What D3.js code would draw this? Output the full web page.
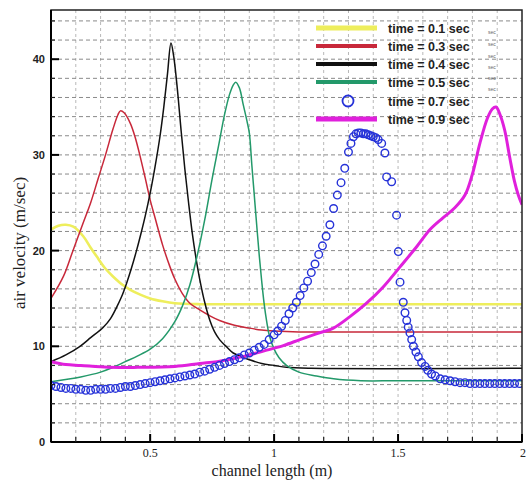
<!DOCTYPE html>
<html><head><meta charset="utf-8">
<script src="https://cdn.jsdelivr.net/npm/d3@7"></script>
<style>body{margin:0;background:#fff}svg{display:block}</style>
</head><body>
<svg id="c" width="530" height="483"></svg>
<script>
// ---- data ----
const xTicks = [0.5, 1, 1.5, 2];
const xTickLabels = ["0.5", "1", "1.5", "2"];
const yTicks = [0, 10, 20, 30, 40];
const yTickLabels = ["0", "10", "20", "30", "40"];
const seriesNames = ["time = 0.1 sec","time = 0.3 sec","time = 0.4 sec","time = 0.5 sec","time = 0.7 sec","time = 0.9 sec"];

const t01 = [[0.1,22.2],[0.13,22.6],[0.16,22.7],[0.19,22.5],[0.23,21.5],[0.26,20.3],[0.284,19.4],[0.32,18.1],[0.35,17.3],[0.39,16.4],[0.42,15.9],[0.46,15.4],[0.5,15.0],[0.55,14.7],[0.6,14.5],[0.7,14.4],[0.8,14.4],[2.0,14.4]];
const t03 = [[0.1,15.0],[0.15,17.3],[0.19,20.1],[0.23,22.9],[0.26,25.0],[0.29,27.5],[0.32,30.0],[0.35,32.7],[0.37,34.2],[0.38,34.6],[0.395,34.4],[0.42,33.3],[0.44,31.8],[0.46,29.8],[0.48,27.6],[0.5,25.3],[0.52,23.4],[0.55,20.6],[0.58,18.3],[0.6,17.0],[0.63,15.5],[0.66,14.5],[0.7,13.8],[0.74,13.2],[0.78,12.7],[0.84,12.2],[0.9,11.9],[0.95,11.7],[1.0,11.6],[1.1,11.5],[1.3,11.5],[2.0,11.5]];
const t04 = [[0.1,8.4],[0.16,9.1],[0.217,10.0],[0.26,10.9],[0.311,12.0],[0.34,12.9],[0.365,14.1],[0.385,15.2],[0.405,16.6],[0.425,18.2],[0.446,20.1],[0.465,22.0],[0.48,23.6],[0.5,26.0],[0.52,28.8],[0.54,32.0],[0.555,35.0],[0.57,38.5],[0.584,41.7],[0.595,40.3],[0.61,36.8],[0.625,32.5],[0.64,28.5],[0.655,25.0],[0.67,21.8],[0.685,19.2],[0.70,17.0],[0.72,14.6],[0.741,12.7],[0.76,11.5],[0.78,10.7],[0.81,9.9],[0.835,9.3],[0.87,8.9],[0.9,8.6],[0.95,8.2],[1.0,8.0],[1.05,7.8],[1.15,7.7],[2.0,7.7]];
const t05 = [[0.1,6.3],[0.22,6.8],[0.3,7.3],[0.35,7.8],[0.4,8.4],[0.45,9.0],[0.5,9.7],[0.55,10.8],[0.6,12.6],[0.63,14.2],[0.66,16.4],[0.69,19.5],[0.72,23.2],[0.75,27.5],[0.78,31.5],[0.80,34.2],[0.82,36.3],[0.835,37.3],[0.845,37.6],[0.86,37.0],[0.875,35.3],[0.89,33.6],[0.9,32.3],[0.91,29.0],[0.92,25.8],[0.93,22.6],[0.94,19.5],[0.95,16.8],[0.96,14.4],[0.97,12.6],[0.98,11.2],[1.0,9.7],[1.02,8.8],[1.05,8.0],[1.1,7.3],[1.17,6.9],[1.24,6.6],[1.35,6.4],[1.5,6.4],[2.0,6.4]];
const t07 = [[0.10,5.9],[0.12,5.8],[0.14,5.7],[0.16,5.6],[0.18,5.6],[0.20,5.5],[0.22,5.5],[0.24,5.4],[0.26,5.4],[0.28,5.5],[0.30,5.5],[0.32,5.5],[0.34,5.6],[0.36,5.6],[0.38,5.7],[0.40,5.8],[0.42,5.8],[0.44,5.9],[0.46,6.0],[0.48,6.1],[0.50,6.2],[0.52,6.3],[0.54,6.4],[0.56,6.5],[0.58,6.6],[0.60,6.7],[0.62,6.8],[0.64,6.9],[0.66,7.0],[0.68,7.1],[0.70,7.3],[0.72,7.4],[0.74,7.6],[0.76,7.8],[0.78,8.0],[0.80,8.2],[0.82,8.4],[0.84,8.6],[0.86,8.8],[0.88,9.1],[0.90,9.3],[0.92,9.6],[0.94,9.9],[0.96,10.2],[0.98,10.7],[1.00,11.2],[1.015,11.6],[1.03,12.1],[1.045,12.7],[1.06,13.4],[1.075,14.0],[1.09,14.6],[1.105,15.3],[1.12,16.1],[1.135,16.8],[1.15,17.7],[1.165,18.6],[1.18,19.6],[1.195,20.5],[1.21,21.5],[1.225,22.7],[1.24,24.4],[1.255,25.8],[1.27,27.1],[1.285,28.6],[1.30,30.3],[1.31,31.2],[1.32,31.9],[1.33,32.2],[1.34,32.3],[1.35,32.3],[1.36,32.2],[1.37,32.2],[1.38,32.1],[1.39,32.0],[1.40,31.9],[1.41,31.8],[1.42,31.6],[1.434,31.2],[1.447,30.2],[1.454,27.7],[1.474,27.2],[1.494,23.7],[1.501,19.9],[1.508,16.7],[1.521,14.6],[1.528,13.5],[1.535,12.7],[1.541,12.0],[1.548,11.4],[1.555,10.7],[1.562,10.0],[1.572,9.4],[1.582,8.9],[1.595,8.3],[1.609,7.9],[1.62,7.5],[1.635,7.1],[1.65,6.9],[1.67,6.6],[1.69,6.5],[1.71,6.4],[1.73,6.3],[1.75,6.2],[1.77,6.2],[1.79,6.1],[1.81,6.1],[1.83,6.1],[1.85,6.1],[1.87,6.1],[1.89,6.1],[1.91,6.1],[1.93,6.1],[1.95,6.1],[1.97,6.1],[1.99,6.1]];
const t09 = [[0.1,8.4],[0.16,8.1],[0.22,8.0],[0.33,7.8],[0.45,7.8],[0.6,7.9],[0.7,8.2],[0.77,8.4],[0.835,8.7],[0.9,9.1],[0.97,9.6],[1.04,10.1],[1.104,10.7],[1.17,11.3],[1.239,11.9],[1.306,13.1],[1.373,14.5],[1.44,16.2],[1.508,18.3],[1.575,20.4],[1.629,22.2],[1.68,23.4],[1.73,24.5],[1.77,25.8],[1.8,28.0],[1.83,31.2],[1.86,33.8],[1.88,34.8],[1.895,35.0],[1.91,34.3],[1.93,32.6],[1.95,29.8],[1.97,27.2],[1.985,25.8],[2.0,24.8]];

// ---- layout ----
const svg = d3.select("#c");
const L = 51, R = 522, T = 10, B = 442;
const x = d3.scaleLinear().domain([0.1, 2]).range([L, R]);
const y = d3.scaleLinear().domain([0, 45]).range([B, B - 45 * 9.57]);

const g = svg.append("g");

// grid
const xGrid = d3.range(2, 20).map(d => d / 10);
const yGrid = d3.range(2, 45, 2);
g.selectAll(".vg").data(xGrid).join("line")
  .attr("x1", d => x(d)).attr("x2", d => x(d)).attr("y1", T).attr("y2", B)
  .attr("stroke", "#b8b8b8").attr("stroke-width", 1).attr("stroke-dasharray", "3,3");
g.selectAll(".hg").data(yGrid).join("line")
  .attr("x1", L).attr("x2", R).attr("y1", d => y(d)).attr("y2", d => y(d))
  .attr("stroke", "#8a8a8a").attr("stroke-width", 1).attr("stroke-dasharray", "4,3");

// curves
const line = d3.line().x(d => x(d[0])).y(d => y(d[1])).curve(d3.curveCatmullRom.alpha(0.5));
svg.append("clipPath").attr("id", "pc").append("rect")
  .attr("x", L).attr("y", T).attr("width", R - L).attr("height", B - T);
const plot = svg.append("g").attr("clip-path", "url(#pc)");

const styles = [
  {data: t01, color: "#eeee5c", w: 2.6},
  {data: t03, color: "#c8283a", w: 1.5},
  {data: t04, color: "#111111", w: 1.5},
  {data: t05, color: "#23996a", w: 1.5},
  {data: t09, color: "#e020dc", w: 3}
];
styles.forEach(s => {
  plot.append("path").datum(s.data).attr("d", line)
    .attr("fill", "none").attr("stroke", s.color).attr("stroke-width", s.w)
    .attr("stroke-linejoin", "round");
});
plot.selectAll(".bc").data(t07).join("circle")
  .attr("cx", d => x(d[0])).attr("cy", d => y(d[1])).attr("r", 3.8)
  .attr("fill", "none").attr("stroke", "#2632d8").attr("stroke-width", 1.4);

// frame
svg.append("rect").attr("x", L).attr("y", T).attr("width", R - L).attr("height", B - T)
  .attr("fill", "none").attr("stroke", "#222").attr("stroke-width", 1.5);
svg.append("line").attr("x1", L).attr("x2", R).attr("y1", B).attr("y2", B).attr("stroke", "#000").attr("stroke-width", 2);
svg.append("line").attr("x1", L).attr("x2", L).attr("y1", T).attr("y2", B).attr("stroke", "#000").attr("stroke-width", 2);

// ticks
const xMinor = d3.range(2, 20).map(d => d / 10).filter(d => Math.abs(d * 2 - Math.round(d * 2)) > 1e-6);
svg.selectAll(".xmn").data(xMinor).join("line")
  .attr("x1", d => x(d)).attr("x2", d => x(d)).attr("y1", B).attr("y2", B - 5)
  .attr("stroke", "#222").attr("stroke-width", 1.2);
svg.selectAll(".xmj").data(xTicks).join("line")
  .attr("x1", d => x(d)).attr("x2", d => x(d)).attr("y1", B).attr("y2", B - 8)
  .attr("stroke", "#000").attr("stroke-width", 2);
const yMinor = yGrid.filter(d => d % 10 !== 0);
svg.selectAll(".ymn").data(yMinor).join("line")
  .attr("x1", L).attr("x2", L + 4).attr("y1", d => y(d)).attr("y2", d => y(d))
  .attr("stroke", "#222").attr("stroke-width", 1.2);
svg.selectAll(".ymj").data(yTicks).join("line")
  .attr("x1", L).attr("x2", L + 8).attr("y1", d => y(d)).attr("y2", d => y(d))
  .attr("stroke", "#000").attr("stroke-width", 2);

// tick labels
svg.selectAll(".xl").data(xTicks).join("text")
  .attr("x", (d, i) => i === xTicks.length - 1 ? x(d) + 1 : x(d)).attr("y", 457)
  .attr("text-anchor", "middle").attr("font-family", "Liberation Serif").attr("font-size", 12)
  .attr("fill", "#222").text((d, i) => xTickLabels[i]);
svg.selectAll(".yl").data(yTicks).join("text")
  .attr("x", 45).attr("y", d => y(d) + 4)
  .attr("text-anchor", "end").attr("font-family", "Liberation Sans").attr("font-weight", "bold").attr("font-size", 11)
  .attr("fill", "#222").text((d, i) => yTickLabels[i]);

// axis titles
svg.append("text").attr("x", 272).attr("y", 476).attr("text-anchor", "middle")
  .attr("font-family", "Liberation Serif").attr("font-size", 16).attr("fill", "#222")
  .text("channel length (m)");
svg.append("text").attr("transform", "translate(25,243) rotate(-90)").attr("text-anchor", "middle")
  .attr("font-family", "Liberation Serif").attr("font-size", 17).attr("fill", "#222")
  .text("air velocity (m/sec)");

// legend
const legY = [28, 46, 64, 82, 101, 119];
const legColors = ["#eeee5c", "#c8283a", "#111111", "#23996a", "#2632d8", "#e020dc"];
const legW = [5, 4, 4, 4, 0, 5];
const leg = svg.append("g");
seriesNames.forEach((name, i) => {
  if (i === 4) {
    leg.append("circle").attr("cx", 348).attr("cy", legY[i]).attr("r", 5.5)
      .attr("fill", "none").attr("stroke", legColors[i]).attr("stroke-width", 1.8);
  } else {
    leg.append("line").attr("x1", 316).attr("x2", 377).attr("y1", legY[i]).attr("y2", legY[i])
      .attr("stroke", legColors[i]).attr("stroke-width", legW[i]);
  }
  leg.append("text").attr("x", 388).attr("y", legY[i] + 4.5)
    .attr("font-family", "Liberation Sans").attr("font-weight", "bold").attr("font-size", 12.5)
    .attr("fill", "#222").text(name);
});
// faint stray "sec" marks beside the legend
[34, 46, 58, 69, 80, 91].forEach(yy => {
  leg.append("text").attr("x", 488).attr("y", yy).attr("font-family", "Liberation Sans")
    .attr("font-size", 5).attr("fill", "#666").text("sec");
});
</script>
</body></html>
